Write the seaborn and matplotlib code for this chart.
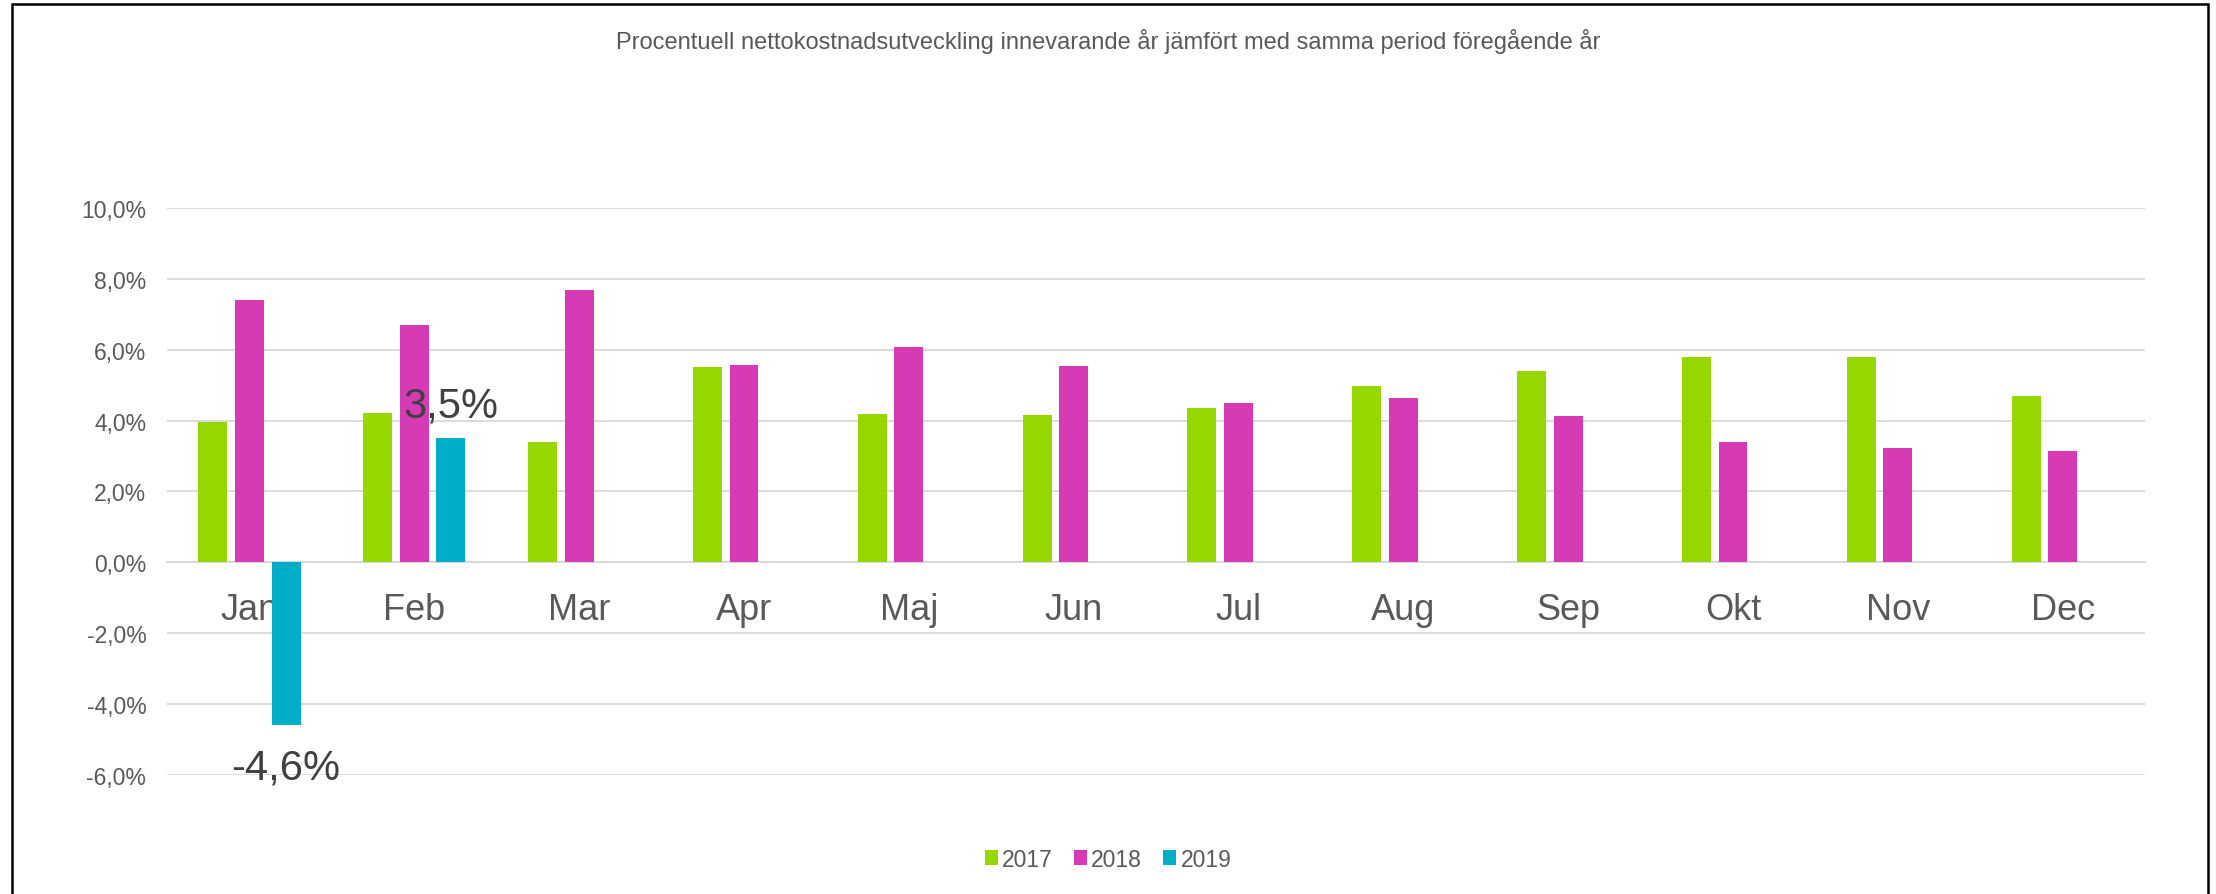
import numpy as np
import pandas as pd
import matplotlib
matplotlib.use("Agg")
import matplotlib.pyplot as plt
import seaborn as sns
from matplotlib.patches import Rectangle
from matplotlib.ticker import FuncFormatter

# Data (percent)
months = ['Jan', 'Feb', 'Mar', 'Apr', 'Maj', 'Jun', 'Jul', 'Aug', 'Sep', 'Okt', 'Nov', 'Dec']
years = ['2017', '2018', '2019']
v2017 = [3.95, 4.22, 3.40, 5.50, 4.19, 4.17, 4.35, 4.99, 5.39, 5.79, 5.79, 4.70]
v2018 = [7.41, 6.70, 7.69, 5.57, 6.09, 5.53, 4.51, 4.63, 4.14, 3.39, 3.24, 3.15]
v2019 = [-4.6, 3.5, None, None, None, None, None, None, None, None, None, None]
colors = ['#97D700', '#D63AB4', '#00AEC7']
title = 'Procentuell nettokostnadsutveckling innevarande år jämfört med samma period föregående år'

# Long format table for seaborn
df = pd.DataFrame({
    'month': months * 3,
    'year': [y for y in years for _ in months],
    'value': v2017 + v2018 + v2019,
}).dropna()

sns.set_theme(style='white')
plt.rcParams['font.family'] = ['Liberation Sans', 'DejaVu Sans']

grey = '#595959'

fig = plt.figure(figsize=(22.16, 8.95), dpi=100)
ax = fig.add_axes([0.0754, 0.1330, 0.8926, 0.6335])

sns.barplot(data=df, x='month', y='value', hue='year', order=months, hue_order=years,
            palette=colors, saturation=1, width=0.666, gap=0.21, errorbar=None,
            linewidth=0, ax=ax)

# Axis styling, Excel-like
ax.set_ylim(-6, 10)
ax.set_yticks(np.arange(-6, 11, 2))
ax.yaxis.set_major_formatter(FuncFormatter(lambda v, p: f"{v:.1f}%".replace('.', ',')))
ax.yaxis.grid(True, color='#D9D9D9', linewidth=1.3)
ax.xaxis.grid(False)
ax.set_axisbelow(True)
for s in ['top', 'right', 'left']:
    ax.spines[s].set_visible(False)
ax.spines['bottom'].set_position(('data', 0))
ax.spines['bottom'].set_color('#D9D9D9')
ax.spines['bottom'].set_linewidth(1.3)
ax.spines['bottom'].set_zorder(0.5)
ax.tick_params(axis='x', length=0, pad=21, labelsize=26, labelcolor=grey)
ax.tick_params(axis='y', length=0, pad=15, labelsize=16.5, labelcolor=grey)
ax.set_xlabel('')
ax.set_ylabel('')

# Data labels on the 2019 bars
for patch, val in zip(ax.containers[2], [v for v in v2019 if v is not None]):
    xc = patch.get_x() + patch.get_width() / 2
    txt = f"{val:.1f}%".replace('.', ',')
    if val < 0:
        ax.annotate(txt, xy=(xc, val), xytext=(0, -38), textcoords='offset points',
                    ha='center', va='baseline', fontsize=30, color='#404040')
    else:
        ax.annotate(txt, xy=(xc, val), xytext=(0, 16), textcoords='offset points',
                    ha='center', va='baseline', fontsize=30, color='#404040')

# Legend at the bottom centre
handles, labels = ax.get_legend_handles_labels()
ax.legend_.remove()
fig.legend(handles, labels, loc='center', bbox_to_anchor=(0.5, 0.039), ncol=3,
           frameon=False, fontsize=16.5, handlelength=0.57, handleheight=0.57,
           handletextpad=0.2, columnspacing=0.9, labelcolor=grey)

fig.text(0.5, 1 - 41 / 895, title, ha='center', va='center', fontsize=17, color=grey)

# Outer frame (open at the bottom, as in the reference crop)
fig.patches.append(Rectangle((12 / 2216, -0.1), (2208 - 12) / 2216, 1.1 - 4.5 / 895,
                             transform=fig.transFigure, fill=False, lw=1.8, ec='black'))

fig.savefig('out.png', dpi=100)
